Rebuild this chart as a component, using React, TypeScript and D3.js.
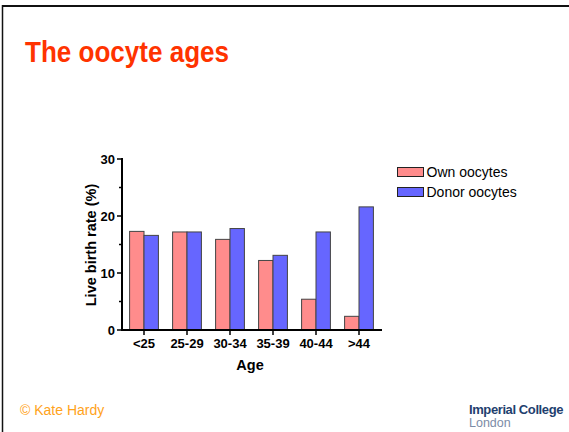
import React from "react";
import * as d3 from "d3";

const categories = ["<25", "25-29", "30-34", "35-39", "40-44", ">44"];
const seriesNames = ["Own oocytes", "Donor oocytes"];
const ownValues = [17.3, 17.2, 15.9, 12.2, 5.4, 2.4];
const donorValues = [16.6, 17.2, 17.8, 13.1, 17.2, 21.6];
const yTicks = [0, 10, 20, 30];
const yMinorTicks = [5, 15, 25];
const colors = ["#FF8C8C", "#6666FF"];

const W = 569;
const H = 432;
const FONT = "Arial, 'Liberation Sans', Helvetica, sans-serif";

export default function App() {
  const x = d3.scaleBand<string>().domain(categories).range([122.5, 380.5]).paddingInner(0.33).paddingOuter(0.165);
  const inner = d3.scaleBand<string>().domain(seriesNames).range([0, x.bandwidth()]);
  const y = d3.scaleLinear().domain([0, 30]).range([330, 159]);
  const series = [ownValues, donorValues];
  const axisX = 122;

  return (
    <svg width={W} height={H} style={{ position: "absolute", left: 0, top: 0, background: "#fff" }} fontFamily={FONT}>
      <rect x={0} y={0} width={W} height={H} fill="#fff" />
      {/* slide border */}
      <line x1={2.5} y1={6} x2={W} y2={6} stroke="#111" strokeWidth={2} />
      <line x1={2.5} y1={5} x2={2.5} y2={H} stroke="#111" strokeWidth={1.5} />

      <text x={25} y={62} fill="#FF3300" fontSize={29} fontWeight="bold" textLength={204} lengthAdjust="spacingAndGlyphs">The oocyte ages</text>

      {/* bars */}
      {categories.map((c, i) => (
        <g key={c}>
          {seriesNames.map((s, j) => {
            const v = series[j][i];
            const bx = (x(c) as number) + (inner(s) as number);
            return (
              <rect key={s} x={bx} y={y(v)} width={inner.bandwidth()} height={y(0) - y(v)}
                fill={colors[j]} stroke="#444" strokeWidth={1} />
            );
          })}
        </g>
      ))}

      {/* y axis */}
      <line x1={axisX} y1={y(30) - 1} x2={axisX} y2={y(0) + 1} stroke="#000" strokeWidth={2} />
      {yTicks.map((t) => (
        <g key={t}>
          <line x1={axisX - 5} x2={axisX} y1={y(t)} y2={y(t)} stroke="#000" strokeWidth={1.5} />
          <text x={axisX - 7} y={y(t)} dy="0.35em" textAnchor="end" fontSize={13} fontWeight="bold">{t}</text>
        </g>
      ))}
      {yMinorTicks.map((t) => (
        <line key={t} x1={axisX - 3} x2={axisX} y1={y(t)} y2={y(t)} stroke="#000" strokeWidth={1.5} />
      ))}

      {/* x axis */}
      <line x1={axisX - 1} y1={y(0)} x2={382} y2={y(0)} stroke="#000" strokeWidth={2} />
      {categories.map((c) => {
        const cx = (x(c) as number) + x.bandwidth() / 2;
        return (
          <g key={c}>
            <line x1={cx} x2={cx} y1={y(0)} y2={y(0) + 5} stroke="#000" strokeWidth={1.5} />
            <text x={cx} y={348} textAnchor="middle" fontSize={13} fontWeight="bold">{c}</text>
          </g>
        );
      })}
      <text x={250} y={370} textAnchor="middle" fontSize={14.5} fontWeight="bold">Age</text>
      <text transform={`translate(96,245) rotate(-90)`} textAnchor="middle" fontSize={14.5} fontWeight="bold">Live birth rate (%)</text>

      {/* legend */}
      {seriesNames.map((s, j) => (
        <g key={s} transform={`translate(397.5,${167.5 + j * 20})`}>
          <rect x={0} y={0} width={26} height={9} fill={colors[j]} stroke="#222" strokeWidth={1} />
          <text x={29} y={4.5} dy="0.35em" fontSize={14}>{s}</text>
        </g>
      ))}

      {/* footer */}
      <text x={20} y={414.5} fill="#FFA31A" fontSize={14}>© Kate Hardy</text>
      <text x={469} y={414} fill="#1F3F6E" fontSize={13} fontWeight="bold" letterSpacing={-0.4}>Imperial College</text>
      <text x={469} y={427} fill="#7C8CA6" fontSize={12.5}>London</text>
    </svg>
  );
}
